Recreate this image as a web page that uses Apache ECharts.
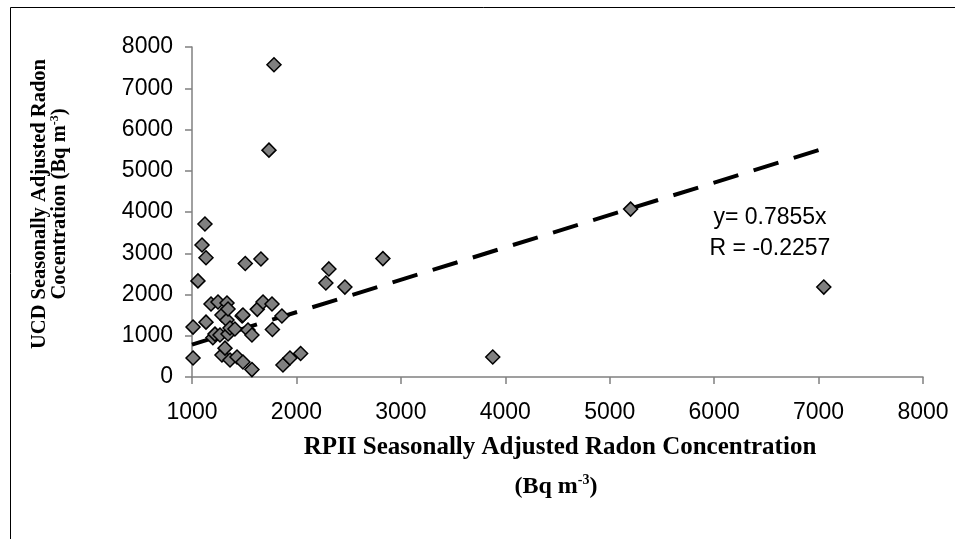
<!DOCTYPE html>
<html>
<head>
<meta charset="utf-8">
<script src="https://cdn.jsdelivr.net/npm/echarts@6/dist/echarts.min.js"></script>
<style>
  html, body { margin: 0; padding: 0; background: #fff; }
  #main { width: 955px; height: 539px; }
</style>
</head>
<body>
<div id="main"></div>
<script>
/* RPII vs UCD seasonally adjusted radon */
var rpii = [1010, 1010, 1057, 1096, 1124, 1134, 1134, 1182, 1200, 1220, 1249, 1268, 1287, 1287, 1316, 1335, 1335, 1345, 1345, 1364, 1364, 1411, 1431,
            1480, 1488, 1488, 1510, 1536, 1574, 1574, 1625, 1660, 1680, 1737, 1766, 1770, 1785, 1861, 1871, 1938, 2040,
            2282, 2311, 2464, 2828, 3880, 5200, 7050];
var ucd  = [460, 1210, 2330, 3200, 3710, 2890, 1330, 1770, 950, 1040, 1818, 1018, 1503, 533, 700, 1794, 1382, 1648, 1042, 1188, 412, 1164, 485,
            1480, 1503, 364, 2750, 1139, 1018, 180, 1640, 2860, 1818, 5500, 1770, 1150, 7570, 1480, 291, 460, 570,
            2280, 2620, 2180, 2870, 485, 4070, 2180];
var slope = 0.7855;
var trendX = [1000, 7050];
var xTicks = [1000, 8000, 1000]; // min, max, step
var yTicks = [0, 8000, 1000];

var points = [];
for (var i = 0; i < rpii.length; i++) { points.push([rpii[i], ucd[i]]); }
var trend = [];
for (var j = 0; j < trendX.length; j++) { trend.push([trendX[j], trendX[j] * slope]); }

var myChart = echarts.init(document.getElementById('main'));
var axisCol = '#808080';
var plain = function (v) { return String(v); };
option = {
    animation: false,
    backgroundColor: '#fff',
    grid: { left: 192, right: 32, top: 47, bottom: 162 },
    xAxis: {
        type: 'value', min: xTicks[0], max: xTicks[1], interval: xTicks[2],
        axisLine: { onZero: false, lineStyle: { color: axisCol, width: 1.5 } },
        axisTick: { length: 7, lineStyle: { color: axisCol, width: 1.5 } },
        axisLabel: { color: '#000', fontFamily: 'Liberation Sans', fontSize: 23, margin: 24, formatter: plain },
        splitLine: { show: false }
    },
    yAxis: {
        type: 'value', min: yTicks[0], max: yTicks[1], interval: yTicks[2],
        axisLine: { show: true, lineStyle: { color: axisCol, width: 1.5 } },
        axisTick: { show: true, length: 7, lineStyle: { color: axisCol, width: 1.5 } },
        axisLabel: { color: '#000', fontFamily: 'Liberation Sans', fontSize: 23, margin: 19, formatter: plain },
        splitLine: { show: false }
    },
    series: [
        {
            type: 'line',
            data: trend,
            symbol: 'none',
            z: 1,
            lineStyle: { color: '#000', width: 4, type: [26, 16] }
        },
        {
            type: 'scatter',
            data: points,
            symbol: 'diamond',
            symbolSize: 14,
            z: 3,
            itemStyle: { color: '#808080', borderColor: '#000', borderWidth: 1.5, opacity: 1 }
        }
    ],
    graphic: [
        { type: 'rect', left: 8, top: 5, shape: { width: 960, height: 560 },
          style: { fill: null, stroke: '#000', lineWidth: 1 }, silent: true },
        { type: 'text', x: 50, y: 204, rotation: Math.PI / 2,
          style: {
              text: '{b|UCD Seasonally Adjusted Radon}\n{b|Cocentration (Bq m}{s|-3}{b|)}',
              align: 'center', verticalAlign: 'middle',
              rich: {
                  b: { fontFamily: 'Liberation Serif', fontWeight: 'bold', fontSize: 20.5, color: '#000', lineHeight: 20 },
                  s: { fontFamily: 'Liberation Serif', fontWeight: 'bold', fontSize: 12, color: '#000', lineHeight: 20, padding: [0, 0, 11, 0] }
              }
          } },
        { type: 'text', x: 560, y: 448,
          style: { text: 'RPII Seasonally Adjusted Radon Concentration', align: 'center', verticalAlign: 'middle',
                   fontFamily: 'Liberation Serif', fontWeight: 'bold', fontSize: 25, fill: '#000' } },
        { type: 'text', x: 556, y: 487,
          style: {
              text: '{b|(Bq m}{s|-3}{b|)}', align: 'center', verticalAlign: 'middle',
              rich: {
                  b: { fontFamily: 'Liberation Serif', fontWeight: 'bold', fontSize: 24, color: '#000' },
                  s: { fontFamily: 'Liberation Serif', fontWeight: 'bold', fontSize: 14, color: '#000', padding: [0, 0, 13, 0] }
              }
          } },
        { type: 'text', x: 770, y: 218,
          style: { text: 'y= 0.7855x', align: 'center', verticalAlign: 'middle',
                   fontFamily: 'Liberation Sans', fontSize: 23, fill: '#000' } },
        { type: 'text', x: 770, y: 249,
          style: { text: 'R = -0.2257', align: 'center', verticalAlign: 'middle',
                   fontFamily: 'Liberation Sans', fontSize: 23, fill: '#000' } }
    ]
};
myChart.setOption(option);
</script>
</body>
</html>
